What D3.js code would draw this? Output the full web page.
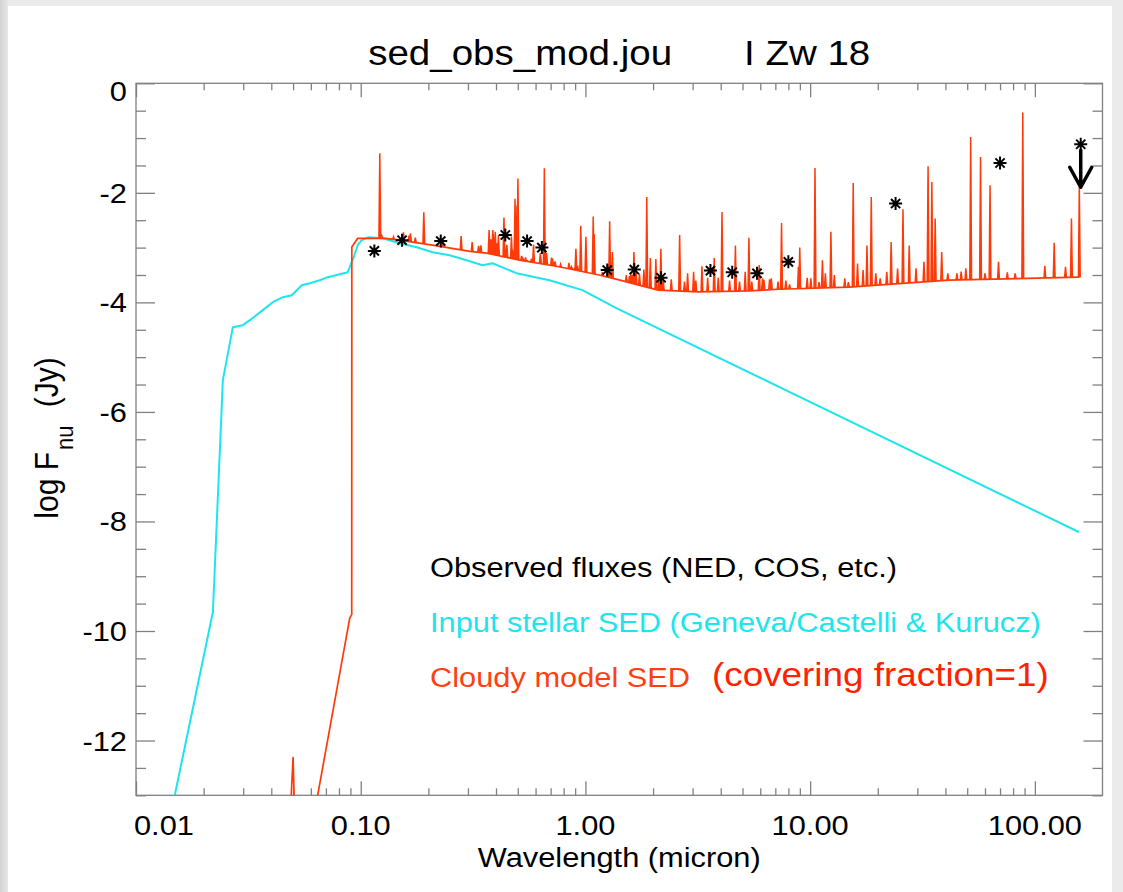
<!DOCTYPE html>
<html>
<head>
<meta charset="utf-8">
<script src="https://cdn.jsdelivr.net/npm/d3@7"></script>
<style>
  html, body { margin: 0; padding: 0; background: #ebebeb; }
  svg { display: block; font-family: "Liberation Sans", Arial, Helvetica, sans-serif; }
</style>
</head>
<body>
<svg id="chart" width="1123" height="892"></svg>
<script>
// ---- Input stellar SED (wavelength in micron, log F_nu in Jy) ----
const stellarWave = [0.01445, 0.02199, 0.02362, 0.02435, 0.02698, 0.02990, 0.0321, 0.03667, 0.04063,
  0.04501, 0.04934, 0.05467, 0.05933, 0.06574, 0.07135, 0.08754, 0.09309, 0.09698, 0.1010, 0.1085,
  0.1253, 0.1491, 0.1774, 0.2089, 0.2486, 0.2959, 0.3485, 0.3861, 0.4935, 0.6918, 0.9698, 1.373, 156.9];
const stellarFlux = [-13.25, -9.653, -6.697, -5.42, -4.453, -4.416, -4.325, -4.142, -3.996,
  -3.905, -3.869, -3.686, -3.650, -3.595, -3.540, -3.449, -3.175, -2.956, -2.865, -2.810,
  -2.828, -2.920, -2.993, -3.084, -3.139, -3.230, -3.321, -3.285, -3.467, -3.595, -3.777, -4.106, -8.193];

// ---- Cloudy model SED: continuum ----
const cloudyWave = [0.0470, 0.0484, 0.0500, 0.0509, 0.0631, 0.0894, 0.0912, 0.0913, 0.0970, 0.1292,
  0.1491, 0.2089, 0.3063, 0.3632, 0.509, 0.763, 1.15, 1.41, 1.73, 2.11, 3.2, 5.357, 7.3, 14.9, 41.5, 157.7];
const cloudyFlux = [-13.6, -13.5, -12.31, -13.5, -13.19, -9.76, -9.70, -2.99, -2.83, -2.83,
  -2.865, -2.956, -3.07, -3.10, -3.23, -3.35, -3.50, -3.59, -3.686, -3.777, -3.81, -3.79, -3.76, -3.723, -3.595, -3.54];

// ---- Cloudy model SED: emission lines (wavelength in micron, peak log F_nu) ----
const lineWave = [0.1216, 0.1240, 0.1400, 0.1549, 0.1640, 0.1665, 0.1750, 0.1909, 0.2326, 0.2798, 0.3133,
  0.3346, 0.3426, 0.3727, 0.3750, 0.3771, 0.3798, 0.3835, 0.3869, 0.3889, 0.3970, 0.4026, 0.4102, 0.4340,
  0.4363, 0.4471, 0.4686, 0.4713, 0.4740,
  0.4861, 0.4959, 0.5007, 0.5200, 0.5270, 0.5412, 0.5518, 0.5755, 0.5876, 0.6300, 0.6312, 0.6563, 0.6678,
  0.6717, 0.7065, 0.7135, 0.7281, 0.7325, 0.7751, 0.8446, 0.8665, 0.8750, 0.9015, 0.9069, 0.9229, 0.9532,
  1.005, 1.083, 1.094, 1.19, 1.26, 1.282, 1.318, 1.52, 1.57, 1.59, 1.61, 1.644, 1.68, 1.74, 1.82, 1.875,
  1.945, 2.058, 2.12, 2.166, 2.22, 2.41, 2.626, 2.76, 2.849, 3.03, 3.1, 3.30, 3.5, 3.741, 3.9, 4.052,
  4.38, 4.65, 4.85, 5.14, 5.34, 5.5, 5.93, 6.14, 6.23, 6.6, 6.72, 7.2, 7.46, 7.8, 8.1, 8.87, 8.99,
  9.7, 10.07, 10.51, 10.96, 11.34, 11.69, 12.37, 12.81, 14.26, 14.8, 15.55, 16.25, 17.2, 17.9,
  18.71, 19.6, 20.5, 21.93, 22.93, 24.5, 25.89, 27.6, 29.6, 32.1, 33.48, 34.81, 36.01, 38.5,
  41.0, 45.0, 47.0, 49.3, 51.81, 57.32, 60.0, 63.18, 68.9, 75.4, 81.7, 88.36, 110.8, 121.9,
  136.9, 145.5, 157.7];
const linePeak = [-1.277, -2.78, -2.80, -2.72, -2.78, -2.74, -2.82, -2.354, -2.86, -2.79, -2.90,
  -2.97, -2.96, -2.68, -2.87, -2.90, -2.85, -2.88, -2.68, -2.75, -2.71, -2.92, -2.77, -2.45,
  -2.90, -2.95, -2.80, -3.02, -3.05,
  -2.11, -2.23, -1.74, -3.15, -3.20, -3.18, -3.24, -3.20, -2.95, -3.10, -3.14, -1.55, -3.20,
  -3.10, -3.18, -3.20, -3.27, -3.25, -3.30, -3.28, -3.35, -3.38, -3.34, -3.02, -3.33, -2.60,
  -2.80, -2.43, -2.75, -3.45, -3.30, -2.52, -3.08, -3.50, -3.52, -3.45, -3.50, -3.08, -3.45, -3.48, -3.40, -2.075,
  -3.19, -3.21, -3.60, -3.02, -3.60, -3.58, -2.77, -3.62, -3.47, -3.44, -3.60, -3.34, -3.55, -3.19, -3.55, -2.35,
  -3.60, -2.96, -3.62, -3.44, -2.82, -3.62, -3.32, -3.56, -3.59, -3.58, -3.56, -3.62, -2.55, -3.60, -3.67, -3.35, -3.00,
  -3.55, -3.56, -1.545, -3.63, -3.23, -3.47, -2.71, -3.50, -3.56, -3.63, -1.82, -3.29, -3.41, -2.96,
  -2.075, -3.47, -3.56, -3.44, -2.90, -3.38, -2.30, -2.96, -3.38, -3.26, -1.515, -1.80, -2.47, -3.08,
  -3.47, -3.47, -3.44, -3.38, -0.98, -1.345, -3.47, -1.86, -3.26, -3.45, -3.47, -0.535, -3.33, -2.91,
  -3.35, -2.47, -1.89];

// ---- Observed fluxes (NED, COS, etc.) ----
const obsWave = [0.115, 0.1528, 0.2271, 0.44, 0.55, 0.64, 1.25, 1.65, 2.17, 3.6, 4.5, 5.8, 8.0, 24.0, 70.0, 160.0];
const obsFlux = [-3.06, -2.865, -2.88, -2.77, -2.88, -3.00, -3.41, -3.40, -3.55, -3.42, -3.45, -3.47, -3.26, -2.195, -1.455, -1.113];
const obsUpperLimit = [false, false, false, false, false, false, false, false, false, false, false, false, false, false, false, true];

// ---- Axes ----
const xTickValues = [0.01, 0.1, 1, 10, 100];
const xTickLabels = ["0.01", "0.10", "1.00", "10.00", "100.00"];
const yTickValues = [0, -2, -4, -6, -8, -10, -12];
const yTickLabels = ["0", "-2", "-4", "-6", "-8", "-10", "-12"];

// ---- Texts ----
const titleLeft = "sed_obs_mod.jou";
const titleRight = "I Zw 18";
const legendItems = [
  { text: "Observed fluxes (NED, COS, etc.)", color: "#000000" },
  { text: "Input stellar SED (Geneva/Castelli & Kurucz)", color: "#1ee4ee" },
  { text: "Cloudy model SED", color: "#ff3f12" }
];
const coveringNote = "(covering fraction=1)";

// ---------------------------------------------------------------
const W = 1123, H = 892;
const plot = { left: 136, right: 1102.5, top: 83.3, bottom: 795.3 };
const SX = 1.1;               // horizontal stretch of the lettering
const AXIS_COLOR = "#808080";
const CYAN = "#1ee4ee", RED = "#ff3a08";

const svg = d3.select("#chart");

// page backdrop: grey border with a white sheet
const defs = svg.append("defs");
const grad = defs.append("linearGradient").attr("id", "sideShade").attr("x1", 0).attr("x2", 1).attr("y1", 0).attr("y2", 0);
grad.append("stop").attr("offset", 0).attr("stop-color", "#d3d3d3");
grad.append("stop").attr("offset", 1).attr("stop-color", "#e6e6e6");
svg.append("rect").attr("width", W).attr("height", H).attr("fill", "#ebebeb");
svg.append("rect").attr("x", 0).attr("y", 0).attr("width", 8).attr("height", H).attr("fill", "url(#sideShade)");
svg.append("rect").attr("x", 8).attr("y", 6).attr("width", 1104).attr("height", H - 6).attr("fill", "#ffffff");

defs.append("clipPath").attr("id", "plotClip")
  .append("rect").attr("x", plot.left).attr("y", plot.top)
  .attr("width", plot.right - plot.left).attr("height", plot.bottom - plot.top);

const x = d3.scaleLog().domain([0.01, 200]).range([plot.left, plot.right]);
const y = d3.scaleLinear().domain([-13, 0]).range([plot.bottom, plot.top]);

function stretchedText(parent, str, px, py, size, anchor, color) {
  return parent.append("text")
    .attr("transform", `translate(${px},${py}) scale(${SX},1)`)
    .attr("text-anchor", anchor)
    .attr("font-size", size)
    .attr("fill", color)
    .text(str);
}

// ---- ticks (bottom/top: log decades; left/right: every 0.5) ----
const minorX = [];
for (let d = -2; d <= 2; d++) for (let m = 2; m <= 9; m++) {
  const v = m * Math.pow(10, d);
  if (v < 200) minorX.push(v);
}
const minorY = d3.range(-13, 0.01, 0.5).filter(v => !yTickValues.includes(v));

const axes = svg.append("g").attr("class", "axes");
function drawTicks(axisGen, tx, ty) {
  const g = axes.append("g").attr("transform", `translate(${tx},${ty})`).call(axisGen);
  g.select(".domain").remove();
  g.selectAll("text").remove();
  g.selectAll("line").attr("stroke", AXIS_COLOR).attr("stroke-width", 1.3);
}
drawTicks(d3.axisBottom(x).tickValues(xTickValues).tickSizeInner(-14).tickSizeOuter(0), 0, plot.bottom);
drawTicks(d3.axisBottom(x).tickValues(minorX).tickSizeInner(-7).tickSizeOuter(0), 0, plot.bottom);
drawTicks(d3.axisTop(x).tickValues(xTickValues).tickSizeInner(-14).tickSizeOuter(0), 0, plot.top);
drawTicks(d3.axisTop(x).tickValues(minorX).tickSizeInner(-7).tickSizeOuter(0), 0, plot.top);
drawTicks(d3.axisLeft(y).tickValues(yTickValues).tickSizeInner(-19).tickSizeOuter(0), plot.left, 0);
drawTicks(d3.axisLeft(y).tickValues(minorY).tickSizeInner(-10).tickSizeOuter(0), plot.left, 0);
drawTicks(d3.axisRight(y).tickValues(yTickValues).tickSizeInner(-19).tickSizeOuter(0), plot.right, 0);
drawTicks(d3.axisRight(y).tickValues(minorY).tickSizeInner(-10).tickSizeOuter(0), plot.right, 0);

axes.append("rect")
  .attr("x", plot.left).attr("y", plot.top)
  .attr("width", plot.right - plot.left).attr("height", plot.bottom - plot.top)
  .attr("fill", "none").attr("stroke", AXIS_COLOR).attr("stroke-width", 1.3);

// ---- tick labels ----
const labels = svg.append("g").attr("class", "tick-labels");
xTickValues.forEach((v, i) => {
  const t = stretchedText(labels, xTickLabels[i], x(v), 834.5, 28, "middle", "#000");
  const w = t.node().getBBox().width * SX;
  if (x(v) - w / 2 < plot.left - 2) {
    t.attr("transform", `translate(${plot.left - 2},834.5) scale(${SX},1)`).attr("text-anchor", "start");
  }
});
yTickValues.forEach((v, i) => {
  const base = Math.max(y(v) + 10, plot.top + 17.5);
  stretchedText(labels, yTickLabels[i], 127, base, 28, "end", "#000");
});

// ---- axis titles & plot title ----
stretchedText(svg, "Wavelength (micron)", (plot.left + plot.right) / 2, 867, 28, "middle", "#000");

const yTitle = svg.append("text")
  .attr("transform", `translate(58,438) scale(${SX},1) rotate(-90)`)
  .attr("text-anchor", "middle").attr("font-size", 30).attr("fill", "#000");
yTitle.append("tspan").text("log F");
yTitle.append("tspan").attr("font-size", 22).attr("dx", 2).attr("dy", 14).text("nu");
yTitle.append("tspan").attr("dx", 10).attr("dy", -14).text(" (Jy)");

const title = svg.append("text")
  .attr("transform", `translate(${(plot.left + plot.right) / 2},65) scale(${SX},1)`)
  .attr("text-anchor", "middle").attr("font-size", 35).attr("fill", "#000");
title.append("tspan").text(titleLeft);
title.append("tspan").attr("dx", 72 / SX).text(titleRight);

// ---- curves ----
const data = svg.append("g").attr("clip-path", "url(#plotClip)");

const stellar = stellarWave.map((w, i) => [w, stellarFlux[i]]);
const cloudy = cloudyWave.map((w, i) => [w, cloudyFlux[i]]);
const line = d3.line().x(d => x(d[0])).y(d => y(d[1]));

// continuum level under each emission line (piecewise linear in log wavelength)
const contAt = d3.scaleLinear().domain(cloudyWave.map(Math.log10)).range(cloudyFlux).clamp(true);

data.append("path").attr("d", line(stellar))
  .attr("fill", "none").attr("stroke", CYAN).attr("stroke-width", 2).attr("stroke-linejoin", "round");

data.append("path").attr("d", line(cloudy))
  .attr("fill", "none").attr("stroke", RED).attr("stroke-width", 1.7).attr("stroke-linejoin", "round");

const spikes = lineWave.map((w, i) => {
  const xc = x(w), yb = y(contAt(Math.log10(w))), yp = y(linePeak[i]);
  return `M${xc - 0.9},${yb}L${xc},${yp}L${xc + 0.9},${yb}`;
}).join("");
data.append("path").attr("d", spikes)
  .attr("fill", RED).attr("stroke", RED).attr("stroke-width", 1.5).attr("stroke-linejoin", "miter");

// ---- observed points (asterisks) ----
const R = 6.5;
function asteriskPath(cx, cy) {
  const d = R * Math.SQRT1_2;
  return `M${cx},${cy - R}L${cx},${cy + R}M${cx - R},${cy}L${cx + R},${cy}` +
         `M${cx - d},${cy - d}L${cx + d},${cy + d}M${cx - d},${cy + d}L${cx + d},${cy - d}`;
}
const obs = svg.append("g").attr("class", "observed");
obsWave.forEach((w, i) => {
  const cx = x(w), cy = y(obsFlux[i]);
  obs.append("path").attr("d", asteriskPath(cx, cy))
    .attr("stroke", "#000").attr("stroke-width", 2).attr("fill", "none");
  if (obsUpperLimit[i]) {
    const tipY = cy + 43;
    obs.append("path")
      .attr("d", `M${cx},${cy + 6}L${cx},${tipY}M${cx - 11},${tipY - 20}L${cx},${tipY}L${cx + 11},${tipY - 20}`)
      .attr("stroke", "#000").attr("stroke-width", 3.5).attr("fill", "none")
      .attr("stroke-linecap", "round").attr("stroke-linejoin", "round");
  }
});

// ---- legend ----
const legend = svg.append("g").attr("class", "legend");
const legendY = [577, 632, 687];
legendItems.forEach((item, i) => stretchedText(legend, item.text, 430, legendY[i], 28, "start", item.color));
stretchedText(legend, coveringNote, 712, 686, 33.5, "start", "#ff2200");
</script>
</body>
</html>
